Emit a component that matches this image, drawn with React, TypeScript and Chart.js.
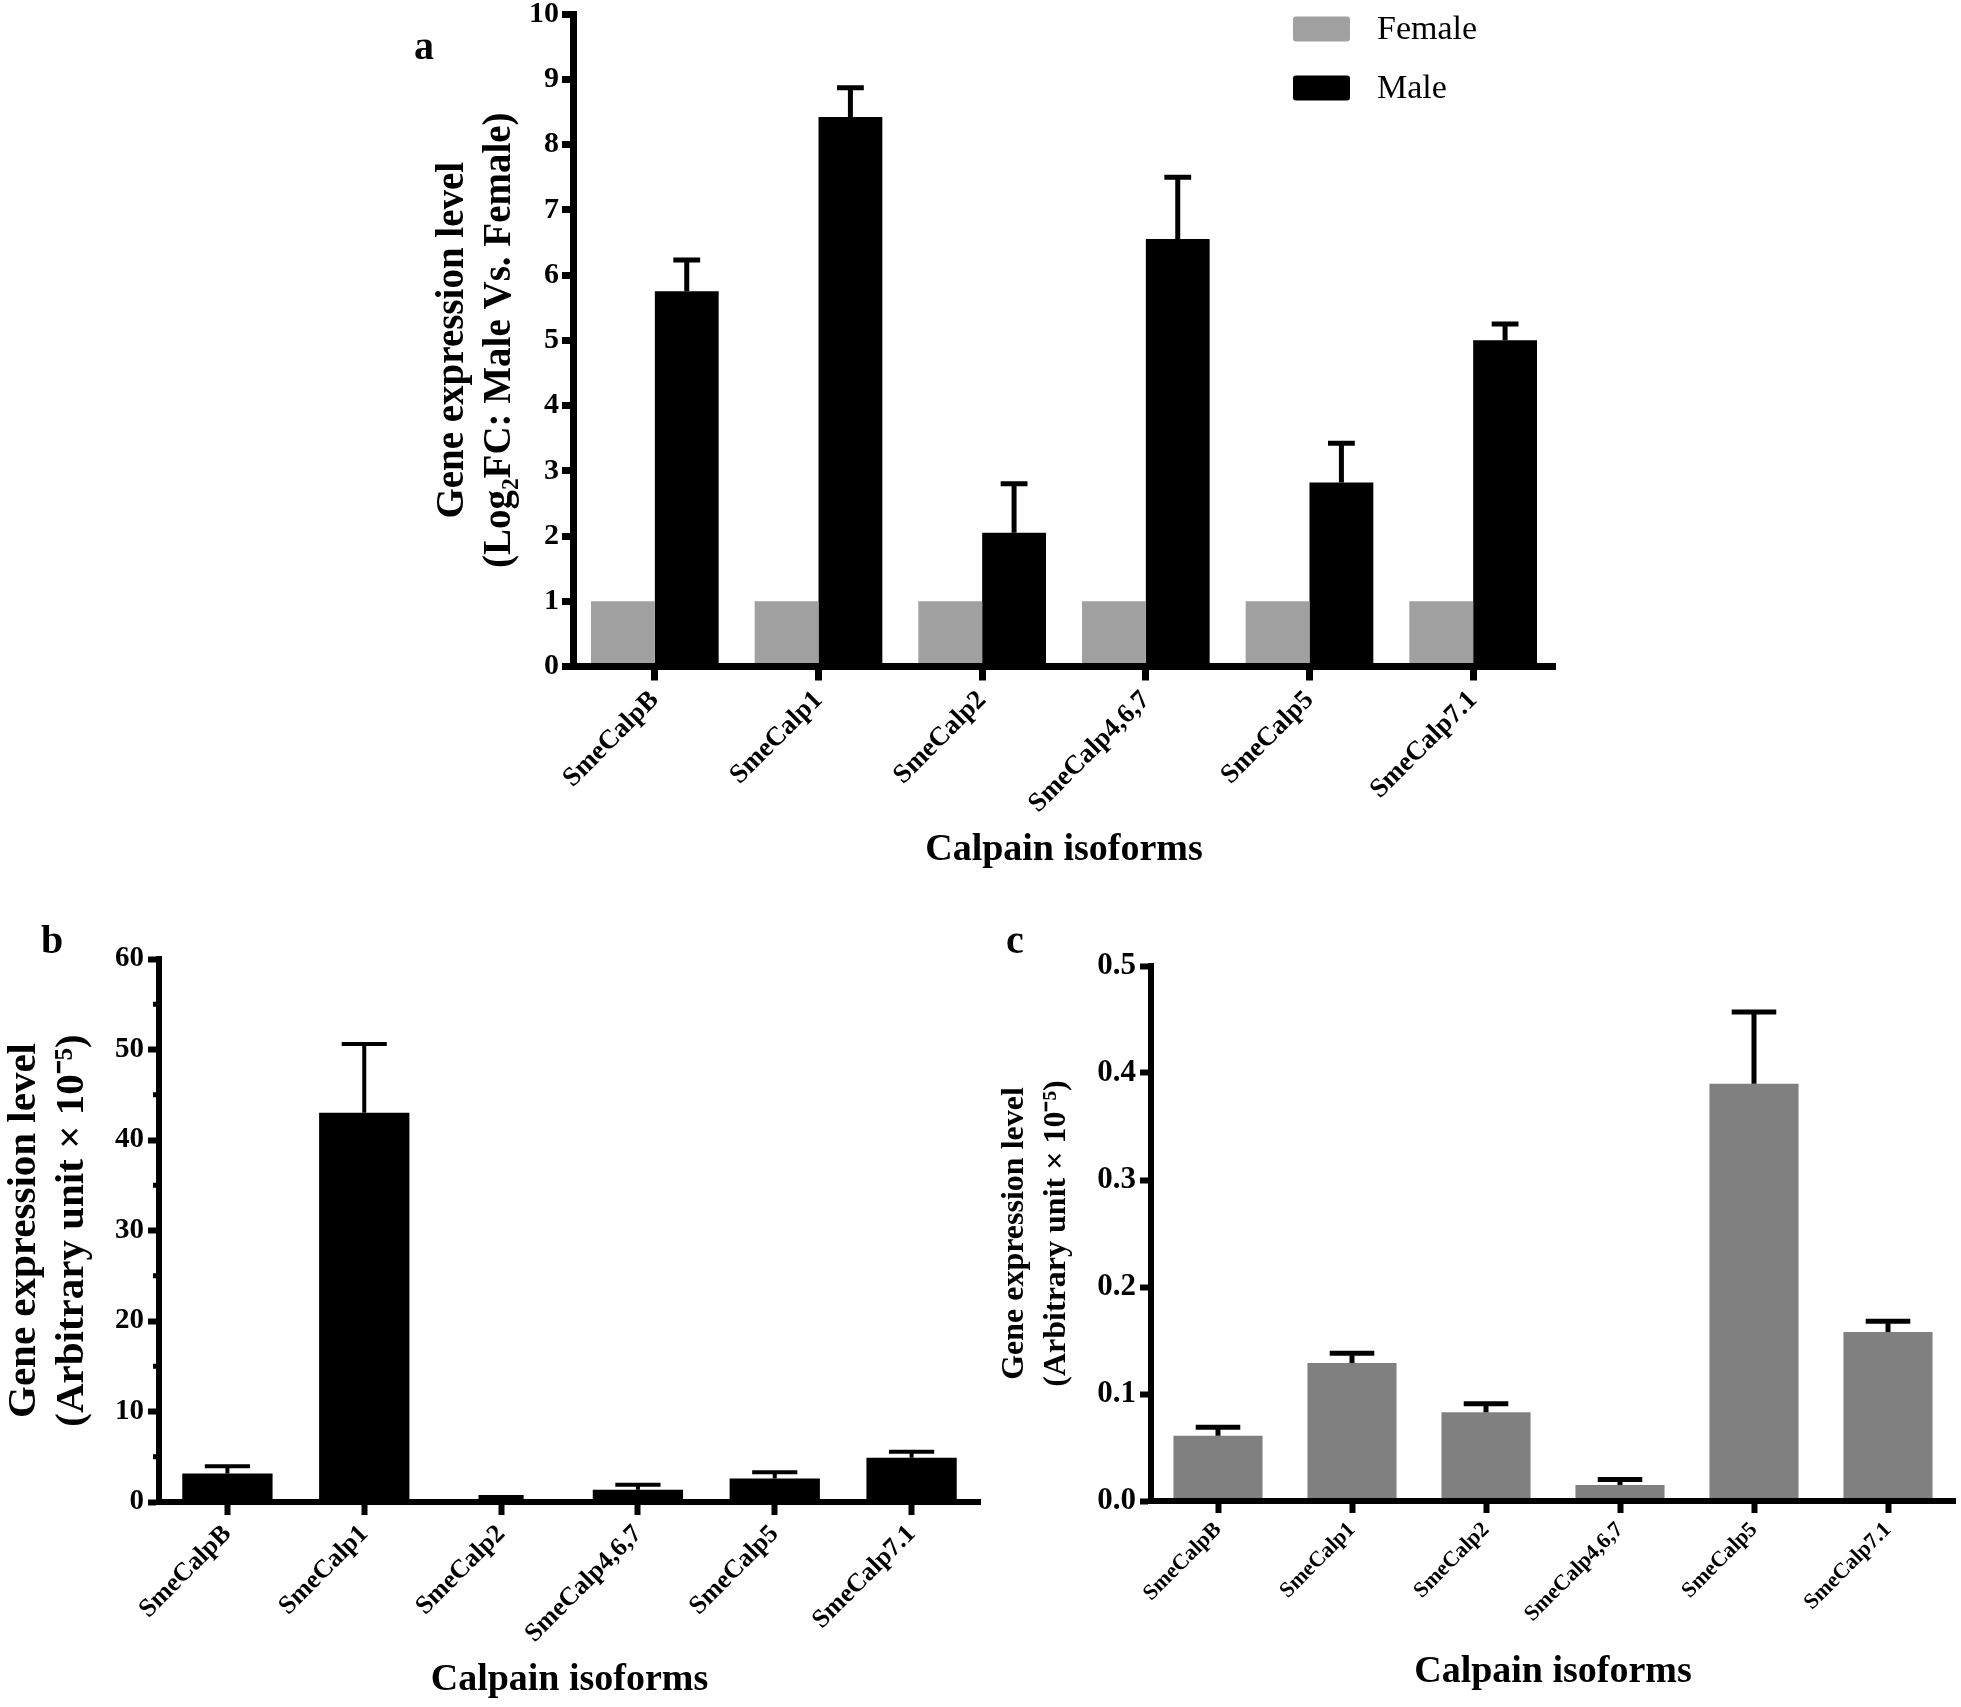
import React, { useEffect, useRef } from 'react';
import { Chart, registerables } from 'chart.js';

Chart.register(...registerables);

// ---------- data ----------
const categories = ['SmeCalpB', 'SmeCalp1', 'SmeCalp2', 'SmeCalp4,6,7', 'SmeCalp5', 'SmeCalp7.1'];

// panel a: log2 fold change (male vs female)
const femaleFC = [1, 1, 1, 1, 1, 1];
const maleFC = [5.75, 8.42, 2.05, 6.55, 2.82, 5.0];
const maleFCErr = [0.48, 0.45, 0.75, 0.95, 0.6, 0.25];
const ticksA = { min: 0, max: 10, step: 1 };

// panel b: male expression level (arbitrary unit x 10^-5)
const maleLevel = [3.15, 43.0, 0.3, 1.35, 2.6, 4.9];
const maleLevelErr = [0.8, 7.6, 0.25, 0.55, 0.7, 0.65];
const ticksB = { min: 0, max: 60, step: 10, minor: 5 };

// panel c: female expression level (arbitrary unit x 10^-5)
const femaleLevel = [0.061, 0.129, 0.083, 0.015, 0.39, 0.158];
const femaleLevelErr = [0.008, 0.009, 0.008, 0.005, 0.067, 0.01];
const ticksC = { min: 0, max: 0.5, step: 0.1 };

const xTitle = 'Calpain isoforms';
const yTitleA = ['Gene expression level', '(Log\u2082FC: Male Vs. Female)'];
const yTitleBC = ['Gene expression level', '(Arbitrary unit \u00d7 10\u207b\u2075)'];
const legendLabels = ['Female', 'Male'];

const SERIF = "'Liberation Serif', 'Times New Roman', Times, serif";
const FEMALE_COLOR = '#a0a0a0';
const MALE_COLOR = '#000000';
const C_COLOR = '#808080';

Chart.defaults.color = '#000';
Chart.defaults.font.family = SERIF;

// ---------- plugins ----------
const errorBarPlugin = {
  id: 'errorBars',
  afterDatasetsDraw(chart: any, _args: any, opts: any) {
    const ctx = chart.ctx;
    const yScale = chart.scales.y;
    chart.data.datasets.forEach((ds: any, di: number) => {
      const errs = ds.errors;
      if (!errs) return;
      const meta = chart.getDatasetMeta(di);
      meta.data.forEach((bar: any, i: number) => {
        const v = ds.data[i];
        const e = errs[i];
        const yBase = yScale.getPixelForValue(v);
        const yTop = yScale.getPixelForValue(v + e);
        const capW = bar.width * opts.capRatio;
        ctx.save();
        ctx.strokeStyle = '#000';
        ctx.lineWidth = opts.lineWidth;
        ctx.lineCap = 'butt';
        ctx.beginPath();
        ctx.moveTo(bar.x, yBase);
        ctx.lineTo(bar.x, yTop);
        ctx.moveTo(bar.x - capW / 2, yTop);
        ctx.lineTo(bar.x + capW / 2, yTop);
        ctx.stroke();
        ctx.restore();
      });
    });
  },
};

const panelLabelPlugin = {
  id: 'panelLabel',
  afterDraw(chart: any, _args: any, opts: any) {
    if (!opts || !opts.text) return;
    const ctx = chart.ctx;
    ctx.save();
    ctx.fillStyle = '#000';
    ctx.font = `bold ${opts.size}px ${SERIF}`;
    ctx.textAlign = 'center';
    ctx.textBaseline = 'middle';
    ctx.fillText(opts.text, opts.x, opts.y);
    ctx.restore();
  },
};

const boxLegendPlugin = {
  id: 'boxLegend',
  afterDraw(chart: any, _args: any, opts: any) {
    if (!opts || !opts.show) return;
    const ctx = chart.ctx;
    ctx.save();
    chart.data.datasets.forEach((ds: any, i: number) => {
      const cy = opts.y + i * opts.gap;
      ctx.fillStyle = ds.backgroundColor;
      const w = opts.boxW, h = opts.boxH, x = opts.x, y = cy - h / 2, r = 3;
      ctx.beginPath();
      ctx.moveTo(x + r, y);
      ctx.lineTo(x + w - r, y);
      ctx.quadraticCurveTo(x + w, y, x + w, y + r);
      ctx.lineTo(x + w, y + h - r);
      ctx.quadraticCurveTo(x + w, y + h, x + w - r, y + h);
      ctx.lineTo(x + r, y + h);
      ctx.quadraticCurveTo(x, y + h, x, y + h - r);
      ctx.lineTo(x, y + r);
      ctx.quadraticCurveTo(x, y, x + r, y);
      ctx.fill();
      ctx.fillStyle = '#000';
      ctx.font = `normal ${opts.size}px ${SERIF}`;
      ctx.textAlign = 'left';
      ctx.textBaseline = 'middle';
      ctx.fillText(ds.label, opts.textX, cy + 1);
    });
    ctx.restore();
  },
};

const minorTickPlugin = {
  id: 'minorTicks',
  afterDraw(chart: any, _args: any, opts: any) {
    if (!opts || !opts.step) return;
    const ctx = chart.ctx;
    const y = chart.scales.y;
    const x0 = chart.chartArea.left;
    ctx.save();
    ctx.strokeStyle = '#000';
    ctx.lineWidth = opts.width;
    for (let v = y.min + opts.step; v < y.max; v += opts.step * 2) {
      const py = y.getPixelForValue(v);
      ctx.beginPath();
      ctx.moveTo(x0 - opts.length, py);
      ctx.lineTo(x0, py);
      ctx.stroke();
    }
    ctx.restore();
  },
};

// ---------- config builders ----------
function font(size: number, bold = true, lineHeight = 1.2) {
  return { family: SERIF, size, weight: bold ? 'bold' : 'normal', lineHeight } as any;
}

function makeScales(p: any) {
  return {
    x: {
      grid: { display: true, drawOnChartArea: false, offset: false, tickLength: p.xTick, tickWidth: p.axisW, tickColor: '#000' },
      border: { display: true, width: p.axisW, color: '#000', z: 1 },
      ticks: { font: font(p.xTickFont), color: '#000', minRotation: 45, maxRotation: 45, autoSkip: false, padding: p.xTickPad },
      title: { display: true, text: xTitle, color: '#000', font: font(p.xTitleFont), padding: { top: 0, bottom: p.xTitlePad } },
      afterFit: (s: any) => { s.height = p.xHeight; },
    },
    y: {
      min: p.min,
      max: p.max,
      grid: { display: true, drawOnChartArea: false, tickLength: p.yTick, tickWidth: p.axisW, tickColor: '#000' },
      border: { display: true, width: p.axisW, color: '#000', z: 1 },
      ticks: {
        stepSize: p.step,
        font: font(p.yTickFont),
        color: '#000',
        padding: p.yTickPad,
        callback: (v: any) => (p.decimals ? Number(v).toFixed(p.decimals) : String(Math.round(Number(v)))),
      },
      title: { display: true, text: p.yTitle, color: '#000', font: font(p.yTitleFont, true, p.yTitleLH), padding: { top: p.yTitlePad, bottom: 0 } },
      afterFit: (s: any) => { s.width = p.yWidth; },
    },
  };
}

function configA() {
  return {
    type: 'bar',
    data: {
      labels: categories,
      datasets: [
        { label: legendLabels[0], data: femaleFC, backgroundColor: FEMALE_COLOR, categoryPercentage: 0.78, barPercentage: 1 },
        { label: legendLabels[1], data: maleFC, errors: maleFCErr, backgroundColor: MALE_COLOR, categoryPercentage: 0.78, barPercentage: 1 },
      ],
    },
    options: {
      responsive: false,
      animation: false,
      devicePixelRatio: 1,
      layout: { padding: { left: 400, top: 34, right: 406, bottom: 0 } },
      plugins: {
        legend: { display: false },
        tooltip: { enabled: false },
        errorBars: { capRatio: 0.42, lineWidth: 5 },
        panelLabel: { text: 'a', x: 424, y: 69, size: 40 },
        boxLegend: { show: true, x: 1293, y: 49, gap: 59, boxW: 57, boxH: 25, textX: 1377, size: 34 },
      },
      scales: makeScales({
        min: ticksA.min, max: ticksA.max, step: ticksA.step, decimals: 0,
        axisW: 7, xTick: 14, yTick: 11, xTickFont: 27, xTickPad: 4, xTitleFont: 38, xTitlePad: 27, xHeight: 233.5,
        yTickFont: 30, yTickPad: 3, yTitle: yTitleA, yTitleFont: 39, yTitleLH: 1.2, yTitlePad: 30, yWidth: 173,
      }),
    },
    plugins: [errorBarPlugin, panelLabelPlugin, boxLegendPlugin],
  };
}

function configB() {
  return {
    type: 'bar',
    data: {
      labels: categories,
      datasets: [
        { label: 'Male', data: maleLevel, errors: maleLevelErr, backgroundColor: MALE_COLOR, categoryPercentage: 0.66, barPercentage: 1 },
      ],
    },
    options: {
      responsive: false,
      animation: false,
      devicePixelRatio: 1,
      layout: { padding: { left: 0, top: 79, right: 20, bottom: 0 } },
      plugins: {
        legend: { display: false },
        tooltip: { enabled: false },
        errorBars: { capRatio: 0.5, lineWidth: 4 },
        panelLabel: { text: 'b', x: 52, y: 63, size: 40 },
        minorTicks: { step: ticksB.minor, length: 6, width: 5 },
      },
      scales: makeScales({
        min: ticksB.min, max: ticksB.max, step: ticksB.step, decimals: 0,
        axisW: 6, xTick: 13, yTick: 11, xTickFont: 26, xTickPad: 4, xTitleFont: 38, xTitlePad: 4, xHeight: 205,
        yTickFont: 29, yTickPad: 4, yTitle: yTitleBC, yTitleFont: 41, yTitleLH: 1.17, yTitlePad: 0, yWidth: 159,
      }),
    },
    plugins: [errorBarPlugin, panelLabelPlugin, minorTickPlugin],
  };
}

function configC() {
  return {
    type: 'bar',
    data: {
      labels: categories,
      datasets: [
        { label: 'Female', data: femaleLevel, errors: femaleLevelErr, backgroundColor: C_COLOR, categoryPercentage: 0.665, barPercentage: 1 },
      ],
    },
    options: {
      responsive: false,
      animation: false,
      devicePixelRatio: 1,
      layout: { padding: { left: 0, top: 86, right: 6, bottom: 0 } },
      plugins: {
        legend: { display: false },
        tooltip: { enabled: false },
        errorBars: { capRatio: 0.5, lineWidth: 5 },
        panelLabel: { text: 'c', x: 25, y: 63, size: 40 },
      },
      scales: makeScales({
        min: ticksC.min, max: ticksC.max, step: ticksC.step, decimals: 1,
        axisW: 6, xTick: 12, yTick: 11, xTickFont: 22, xTickPad: 4, xTitleFont: 38, xTitlePad: 12, xHeight: 206,
        yTickFont: 31, yTickPad: 4, yTitle: yTitleBC, yTitleFont: 32, yTitleLH: 1.3, yTitlePad: 4, yWidth: 161,
      }),
    },
    plugins: [errorBarPlugin, panelLabelPlugin],
  };
}

function ChartCanvas(props: { left: number; top: number; width: number; height: number; make: () => any }) {
  const ref = useRef<HTMLCanvasElement | null>(null);
  useEffect(() => {
    if (!ref.current) return;
    const chart = new Chart(ref.current, props.make());
    return () => chart.destroy();
  }, []);
  return (
    <canvas
      ref={ref}
      width={props.width}
      height={props.height}
      style={{ position: 'absolute', left: props.left, top: props.top, width: props.width, height: props.height, display: 'block' }}
    />
  );
}

export default function App() {
  return (
    <div style={{ position: 'absolute', left: 0, top: 0, width: 1961, height: 1707, background: '#fff', overflow: 'hidden' }}>
      <ChartCanvas left={0} top={-20} width={1961} height={920} make={configA} />
      <ChartCanvas left={0} top={880} width={1000} height={827} make={configB} />
      <ChartCanvas left={990} top={880} width={971} height={827} make={configC} />
    </div>
  );
}
